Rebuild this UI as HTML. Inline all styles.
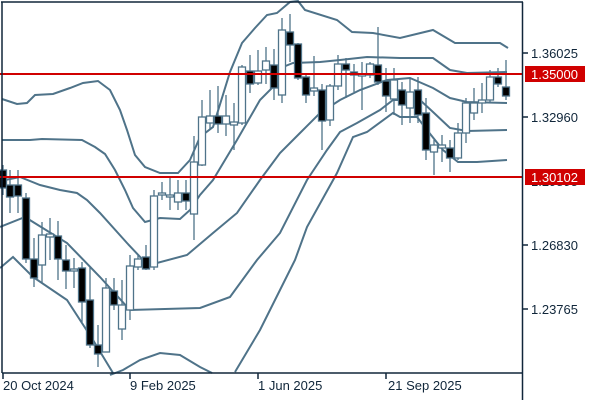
<!DOCTYPE html>
<html><head><meta charset="utf-8"><style>
body{margin:0;background:#fff;width:600px;height:400px;overflow:hidden}
text{font-family:"Liberation Sans","DejaVu Sans",sans-serif;font-size:13px;fill:#10263a}
</style></head><body>
<svg id="s" width="600" height="400" xmlns="http://www.w3.org/2000/svg">
<g fill="none" stroke="#4f7389" stroke-width="2">
<polyline points="2,99 17,104 27,103 35,95 53,94 70,88 83,83 98,81 110,90 120,110 127,130 135,155 145,167 160,173 178,173 190,160 200,137 213,127 230,72 242,43 255,28 267,15 277,13 290,2 298,1 305,10 337,20 352,32 373,33 400,38 433,30 455,43 500,43 508,48"/>
<polyline points="2,140 30,140 42,139 82,140 95,147 105,154 115,170 125,190 133,208 145,222 160,218 180,219 190,210 200,195 213,180 237,140 260,100 277,83 283,67 293,63 320,62 340,60 367,57 400,58 433,58 450,70 467,73 507,72"/>
<polyline points="0,181 20,177 40,185 60,190 77,193 87,200 100,213 127,243 143,260 157,263 187,255 213,233 237,213 260,180 280,153 300,133 320,113 340,100 360,90 387,80 410,78 433,88 450,98 467,102 507,103"/>
<polyline points="0,227 25,217 33,222 67,243 100,277 130,310 200,308 230,297 257,260 280,233 307,180 327,150 340,132 357,123 380,110 393,100 420,100 433,112 450,128 467,131 507,130"/>
<polyline points="0,268 13,257 33,277 67,300 93,340 113,373"/>
<polyline points="110,375 123,370 140,360 160,353 180,355 200,367 212,373"/>
<polyline points="235,372 260,330 280,290 295,260 307,227 337,173 353,137 367,132 393,113 400,117 417,117 427,130 443,150 458,162 477,162 507,160"/>
</g>
<g id="c"></g>
<line x1="0" y1="74" x2="522" y2="74" stroke="#d00000" stroke-width="2"/>
<line x1="0" y1="177" x2="522" y2="177" stroke="#d00000" stroke-width="2"/>
<g stroke="#10263a" stroke-width="1.5">
<line x1="1" y1="2" x2="523" y2="2"/>
<line x1="522.5" y1="2" x2="522.5" y2="400"/>
<line x1="2" y1="2" x2="2" y2="373"/>
<line x1="2" y1="373" x2="523" y2="373"/>
<line x1="523" y1="53" x2="528" y2="53"/><line x1="523" y1="117" x2="528" y2="117"/>
<line x1="523" y1="245" x2="528" y2="245"/><line x1="523" y1="309" x2="528" y2="309"/>
<line x1="3" y1="373" x2="3" y2="379"/><line x1="130" y1="373" x2="130" y2="379"/>
<line x1="258" y1="373" x2="258" y2="379"/><line x1="386" y1="373" x2="386" y2="379"/>
</g>
<text x="531" y="58">1.36025</text>
<text x="531" y="122">1.32960</text>
<text x="531" y="250">1.26830</text>
<text x="531" y="314">1.23765</text>
<text x="531" y="186">1.29895</text>
<rect x="525" y="66" width="60" height="16" fill="#d00000"/>
<text x="531" y="79" style="fill:#fff">1.35000</text>
<rect x="525" y="169" width="60" height="16" fill="#d00000"/>
<text x="531" y="182" style="fill:#fff">1.30102</text>
<text x="3" y="390">20 Oct 2024</text>
<text x="130" y="390">9 Feb 2025</text>
<text x="258" y="390">1 Jun 2025</text>
<text x="388" y="390">21 Sep 2025</text>
</svg>
<script>
var d=[
[3,170,188,165,195,1],[10,185,197,170,213,1],[18,185,196,170,213,1],[26,198,259,193,263,1],[34,259,278,238,287,1],
[42,265,235,222,283,0],[50,237,234,218,260,0],[58,236,259,221,280,1],[66,260,271,245,289,1],[74,271,269,258,288,0],
[82,268,302,262,322,1],[90,300,345,267,348,1],[98,345,354,325,367,1],[106,352,288,278,352,0],[114,291,305,278,310,1],
[122,329,305,280,340,0],[130,310,266,255,320,0],[138,267,259,255,270,0],[146,257,269,245,270,1],[154,267,196,190,270,0],
[162,195,193,182,200,0],[170,197,195,178,210,0],[178,202,193,180,210,0],[186,193,201,180,210,1],[194,214,162,136,240,0],
[202,165,117,100,166,0],[210,123,116,90,130,0],[218,116,124,86,133,1],[226,124,116,95,136,0],[234,125,122,103,150,0],
[242,123,67,65,125,0],[250,71,84,55,93,1],[258,83,71,50,85,0],[266,70,61,47,84,0],[274,65,88,49,100,1],
[282,95,30,18,103,0],[290,32,45,14,62,1],[298,44,78,43,80,1],[306,77,95,73,103,1],[314,91,88,56,96,0],
[322,90,121,84,150,1],[330,120,86,84,126,0],[338,86,64,55,90,0],[346,64,70,58,98,1],[354,72,75,64,92,1],
[362,76,74,62,110,0],[370,75,64,62,78,0],[378,65,82,27,85,1],[386,81,96,68,112,1],[394,99,80,68,115,0],
[402,90,105,82,125,1],[410,108,92,78,123,0],[418,90,115,77,123,1],[426,113,150,98,160,1],[434,152,145,140,175,0],
[442,148,145,135,162,0],[450,148,158,140,172,1],[458,158,133,123,160,0],[466,133,103,98,143,0],[474,113,103,88,120,0],
[482,103,100,83,113,0],[490,100,77,70,103,0],[498,77,84,68,87,1],[506,87,96,60,100,1]];
var g=document.getElementById('c'),h='';
d.forEach(function(c){var x=c[0],t=Math.min(c[1],c[2]),b=Math.max(c[1],c[2]);
h+='<line x1="'+x+'" y1="'+c[3]+'" x2="'+x+'" y2="'+c[4]+'" stroke="#4f7389" stroke-width="1.3"/>';
h+='<rect x="'+(x-3.5)+'" y="'+t+'" width="7" height="'+Math.max(b-t,1.5)+'" fill="'+(c[5]?'#000':'#fff')+'" stroke="#4f7389" stroke-width="1.3"/>';});
g.innerHTML=h;
</script>
</body></html>
